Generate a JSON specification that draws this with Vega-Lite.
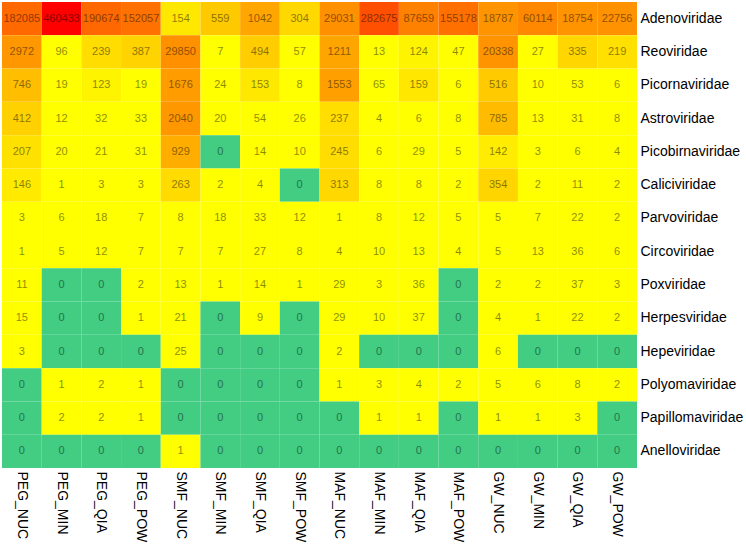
{
  "$schema": "https://vega.github.io/schema/vega-lite/v6.json",
  "width": 635,
  "height": 466,
  "autosize": {"type": "none"},
  "padding": {"left": 2, "top": 2, "right": 109, "bottom": 77},
  "background": "white",
  "config": {"view": {"stroke": null}, "font": "Liberation Sans"},
  "data": {
    "values": [
      {"family":"Adenoviridae","sample":"PEG_NUC","value":182085},{"family":"Adenoviridae","sample":"PEG_MIN","value":460433},{"family":"Adenoviridae","sample":"PEG_QIA","value":190674},{"family":"Adenoviridae","sample":"PEG_POW","value":152057},{"family":"Adenoviridae","sample":"SMF_NUC","value":154},{"family":"Adenoviridae","sample":"SMF_MIN","value":559},{"family":"Adenoviridae","sample":"SMF_QIA","value":1042},{"family":"Adenoviridae","sample":"SMF_POW","value":304},{"family":"Adenoviridae","sample":"MAF_NUC","value":29031},{"family":"Adenoviridae","sample":"MAF_MIN","value":282675},{"family":"Adenoviridae","sample":"MAF_QIA","value":87659},{"family":"Adenoviridae","sample":"MAF_POW","value":155178},{"family":"Adenoviridae","sample":"GW_NUC","value":18787},{"family":"Adenoviridae","sample":"GW_MIN","value":60114},{"family":"Adenoviridae","sample":"GW_QIA","value":18754},{"family":"Adenoviridae","sample":"GW_POW","value":22756},
      {"family":"Reoviridae","sample":"PEG_NUC","value":2972},{"family":"Reoviridae","sample":"PEG_MIN","value":96},{"family":"Reoviridae","sample":"PEG_QIA","value":239},{"family":"Reoviridae","sample":"PEG_POW","value":387},{"family":"Reoviridae","sample":"SMF_NUC","value":29850},{"family":"Reoviridae","sample":"SMF_MIN","value":7},{"family":"Reoviridae","sample":"SMF_QIA","value":494},{"family":"Reoviridae","sample":"SMF_POW","value":57},{"family":"Reoviridae","sample":"MAF_NUC","value":1211},{"family":"Reoviridae","sample":"MAF_MIN","value":13},{"family":"Reoviridae","sample":"MAF_QIA","value":124},{"family":"Reoviridae","sample":"MAF_POW","value":47},{"family":"Reoviridae","sample":"GW_NUC","value":20338},{"family":"Reoviridae","sample":"GW_MIN","value":27},{"family":"Reoviridae","sample":"GW_QIA","value":335},{"family":"Reoviridae","sample":"GW_POW","value":219},
      {"family":"Picornaviridae","sample":"PEG_NUC","value":746},{"family":"Picornaviridae","sample":"PEG_MIN","value":19},{"family":"Picornaviridae","sample":"PEG_QIA","value":123},{"family":"Picornaviridae","sample":"PEG_POW","value":19},{"family":"Picornaviridae","sample":"SMF_NUC","value":1676},{"family":"Picornaviridae","sample":"SMF_MIN","value":24},{"family":"Picornaviridae","sample":"SMF_QIA","value":153},{"family":"Picornaviridae","sample":"SMF_POW","value":8},{"family":"Picornaviridae","sample":"MAF_NUC","value":1553},{"family":"Picornaviridae","sample":"MAF_MIN","value":65},{"family":"Picornaviridae","sample":"MAF_QIA","value":159},{"family":"Picornaviridae","sample":"MAF_POW","value":6},{"family":"Picornaviridae","sample":"GW_NUC","value":516},{"family":"Picornaviridae","sample":"GW_MIN","value":10},{"family":"Picornaviridae","sample":"GW_QIA","value":53},{"family":"Picornaviridae","sample":"GW_POW","value":6},
      {"family":"Astroviridae","sample":"PEG_NUC","value":412},{"family":"Astroviridae","sample":"PEG_MIN","value":12},{"family":"Astroviridae","sample":"PEG_QIA","value":32},{"family":"Astroviridae","sample":"PEG_POW","value":33},{"family":"Astroviridae","sample":"SMF_NUC","value":2040},{"family":"Astroviridae","sample":"SMF_MIN","value":20},{"family":"Astroviridae","sample":"SMF_QIA","value":54},{"family":"Astroviridae","sample":"SMF_POW","value":26},{"family":"Astroviridae","sample":"MAF_NUC","value":237},{"family":"Astroviridae","sample":"MAF_MIN","value":4},{"family":"Astroviridae","sample":"MAF_QIA","value":6},{"family":"Astroviridae","sample":"MAF_POW","value":8},{"family":"Astroviridae","sample":"GW_NUC","value":785},{"family":"Astroviridae","sample":"GW_MIN","value":13},{"family":"Astroviridae","sample":"GW_QIA","value":31},{"family":"Astroviridae","sample":"GW_POW","value":8},
      {"family":"Picobirnaviridae","sample":"PEG_NUC","value":207},{"family":"Picobirnaviridae","sample":"PEG_MIN","value":20},{"family":"Picobirnaviridae","sample":"PEG_QIA","value":21},{"family":"Picobirnaviridae","sample":"PEG_POW","value":31},{"family":"Picobirnaviridae","sample":"SMF_NUC","value":929},{"family":"Picobirnaviridae","sample":"SMF_MIN","value":0},{"family":"Picobirnaviridae","sample":"SMF_QIA","value":14},{"family":"Picobirnaviridae","sample":"SMF_POW","value":10},{"family":"Picobirnaviridae","sample":"MAF_NUC","value":245},{"family":"Picobirnaviridae","sample":"MAF_MIN","value":6},{"family":"Picobirnaviridae","sample":"MAF_QIA","value":29},{"family":"Picobirnaviridae","sample":"MAF_POW","value":5},{"family":"Picobirnaviridae","sample":"GW_NUC","value":142},{"family":"Picobirnaviridae","sample":"GW_MIN","value":3},{"family":"Picobirnaviridae","sample":"GW_QIA","value":6},{"family":"Picobirnaviridae","sample":"GW_POW","value":4},
      {"family":"Caliciviridae","sample":"PEG_NUC","value":146},{"family":"Caliciviridae","sample":"PEG_MIN","value":1},{"family":"Caliciviridae","sample":"PEG_QIA","value":3},{"family":"Caliciviridae","sample":"PEG_POW","value":3},{"family":"Caliciviridae","sample":"SMF_NUC","value":263},{"family":"Caliciviridae","sample":"SMF_MIN","value":2},{"family":"Caliciviridae","sample":"SMF_QIA","value":4},{"family":"Caliciviridae","sample":"SMF_POW","value":0},{"family":"Caliciviridae","sample":"MAF_NUC","value":313},{"family":"Caliciviridae","sample":"MAF_MIN","value":8},{"family":"Caliciviridae","sample":"MAF_QIA","value":8},{"family":"Caliciviridae","sample":"MAF_POW","value":2},{"family":"Caliciviridae","sample":"GW_NUC","value":354},{"family":"Caliciviridae","sample":"GW_MIN","value":2},{"family":"Caliciviridae","sample":"GW_QIA","value":11},{"family":"Caliciviridae","sample":"GW_POW","value":2},
      {"family":"Parvoviridae","sample":"PEG_NUC","value":3},{"family":"Parvoviridae","sample":"PEG_MIN","value":6},{"family":"Parvoviridae","sample":"PEG_QIA","value":18},{"family":"Parvoviridae","sample":"PEG_POW","value":7},{"family":"Parvoviridae","sample":"SMF_NUC","value":8},{"family":"Parvoviridae","sample":"SMF_MIN","value":18},{"family":"Parvoviridae","sample":"SMF_QIA","value":33},{"family":"Parvoviridae","sample":"SMF_POW","value":12},{"family":"Parvoviridae","sample":"MAF_NUC","value":1},{"family":"Parvoviridae","sample":"MAF_MIN","value":8},{"family":"Parvoviridae","sample":"MAF_QIA","value":12},{"family":"Parvoviridae","sample":"MAF_POW","value":5},{"family":"Parvoviridae","sample":"GW_NUC","value":5},{"family":"Parvoviridae","sample":"GW_MIN","value":7},{"family":"Parvoviridae","sample":"GW_QIA","value":22},{"family":"Parvoviridae","sample":"GW_POW","value":2},
      {"family":"Circoviridae","sample":"PEG_NUC","value":1},{"family":"Circoviridae","sample":"PEG_MIN","value":5},{"family":"Circoviridae","sample":"PEG_QIA","value":12},{"family":"Circoviridae","sample":"PEG_POW","value":7},{"family":"Circoviridae","sample":"SMF_NUC","value":7},{"family":"Circoviridae","sample":"SMF_MIN","value":7},{"family":"Circoviridae","sample":"SMF_QIA","value":27},{"family":"Circoviridae","sample":"SMF_POW","value":8},{"family":"Circoviridae","sample":"MAF_NUC","value":4},{"family":"Circoviridae","sample":"MAF_MIN","value":10},{"family":"Circoviridae","sample":"MAF_QIA","value":13},{"family":"Circoviridae","sample":"MAF_POW","value":4},{"family":"Circoviridae","sample":"GW_NUC","value":5},{"family":"Circoviridae","sample":"GW_MIN","value":13},{"family":"Circoviridae","sample":"GW_QIA","value":36},{"family":"Circoviridae","sample":"GW_POW","value":6},
      {"family":"Poxviridae","sample":"PEG_NUC","value":11},{"family":"Poxviridae","sample":"PEG_MIN","value":0},{"family":"Poxviridae","sample":"PEG_QIA","value":0},{"family":"Poxviridae","sample":"PEG_POW","value":2},{"family":"Poxviridae","sample":"SMF_NUC","value":13},{"family":"Poxviridae","sample":"SMF_MIN","value":1},{"family":"Poxviridae","sample":"SMF_QIA","value":14},{"family":"Poxviridae","sample":"SMF_POW","value":1},{"family":"Poxviridae","sample":"MAF_NUC","value":29},{"family":"Poxviridae","sample":"MAF_MIN","value":3},{"family":"Poxviridae","sample":"MAF_QIA","value":36},{"family":"Poxviridae","sample":"MAF_POW","value":0},{"family":"Poxviridae","sample":"GW_NUC","value":2},{"family":"Poxviridae","sample":"GW_MIN","value":2},{"family":"Poxviridae","sample":"GW_QIA","value":37},{"family":"Poxviridae","sample":"GW_POW","value":3},
      {"family":"Herpesviridae","sample":"PEG_NUC","value":15},{"family":"Herpesviridae","sample":"PEG_MIN","value":0},{"family":"Herpesviridae","sample":"PEG_QIA","value":0},{"family":"Herpesviridae","sample":"PEG_POW","value":1},{"family":"Herpesviridae","sample":"SMF_NUC","value":21},{"family":"Herpesviridae","sample":"SMF_MIN","value":0},{"family":"Herpesviridae","sample":"SMF_QIA","value":9},{"family":"Herpesviridae","sample":"SMF_POW","value":0},{"family":"Herpesviridae","sample":"MAF_NUC","value":29},{"family":"Herpesviridae","sample":"MAF_MIN","value":10},{"family":"Herpesviridae","sample":"MAF_QIA","value":37},{"family":"Herpesviridae","sample":"MAF_POW","value":0},{"family":"Herpesviridae","sample":"GW_NUC","value":4},{"family":"Herpesviridae","sample":"GW_MIN","value":1},{"family":"Herpesviridae","sample":"GW_QIA","value":22},{"family":"Herpesviridae","sample":"GW_POW","value":2},
      {"family":"Hepeviridae","sample":"PEG_NUC","value":3},{"family":"Hepeviridae","sample":"PEG_MIN","value":0},{"family":"Hepeviridae","sample":"PEG_QIA","value":0},{"family":"Hepeviridae","sample":"PEG_POW","value":0},{"family":"Hepeviridae","sample":"SMF_NUC","value":25},{"family":"Hepeviridae","sample":"SMF_MIN","value":0},{"family":"Hepeviridae","sample":"SMF_QIA","value":0},{"family":"Hepeviridae","sample":"SMF_POW","value":0},{"family":"Hepeviridae","sample":"MAF_NUC","value":2},{"family":"Hepeviridae","sample":"MAF_MIN","value":0},{"family":"Hepeviridae","sample":"MAF_QIA","value":0},{"family":"Hepeviridae","sample":"MAF_POW","value":0},{"family":"Hepeviridae","sample":"GW_NUC","value":6},{"family":"Hepeviridae","sample":"GW_MIN","value":0},{"family":"Hepeviridae","sample":"GW_QIA","value":0},{"family":"Hepeviridae","sample":"GW_POW","value":0},
      {"family":"Polyomaviridae","sample":"PEG_NUC","value":0},{"family":"Polyomaviridae","sample":"PEG_MIN","value":1},{"family":"Polyomaviridae","sample":"PEG_QIA","value":2},{"family":"Polyomaviridae","sample":"PEG_POW","value":1},{"family":"Polyomaviridae","sample":"SMF_NUC","value":0},{"family":"Polyomaviridae","sample":"SMF_MIN","value":0},{"family":"Polyomaviridae","sample":"SMF_QIA","value":0},{"family":"Polyomaviridae","sample":"SMF_POW","value":0},{"family":"Polyomaviridae","sample":"MAF_NUC","value":1},{"family":"Polyomaviridae","sample":"MAF_MIN","value":3},{"family":"Polyomaviridae","sample":"MAF_QIA","value":4},{"family":"Polyomaviridae","sample":"MAF_POW","value":2},{"family":"Polyomaviridae","sample":"GW_NUC","value":5},{"family":"Polyomaviridae","sample":"GW_MIN","value":6},{"family":"Polyomaviridae","sample":"GW_QIA","value":8},{"family":"Polyomaviridae","sample":"GW_POW","value":2},
      {"family":"Papillomaviridae","sample":"PEG_NUC","value":0},{"family":"Papillomaviridae","sample":"PEG_MIN","value":2},{"family":"Papillomaviridae","sample":"PEG_QIA","value":2},{"family":"Papillomaviridae","sample":"PEG_POW","value":1},{"family":"Papillomaviridae","sample":"SMF_NUC","value":0},{"family":"Papillomaviridae","sample":"SMF_MIN","value":0},{"family":"Papillomaviridae","sample":"SMF_QIA","value":0},{"family":"Papillomaviridae","sample":"SMF_POW","value":0},{"family":"Papillomaviridae","sample":"MAF_NUC","value":0},{"family":"Papillomaviridae","sample":"MAF_MIN","value":1},{"family":"Papillomaviridae","sample":"MAF_QIA","value":1},{"family":"Papillomaviridae","sample":"MAF_POW","value":0},{"family":"Papillomaviridae","sample":"GW_NUC","value":1},{"family":"Papillomaviridae","sample":"GW_MIN","value":1},{"family":"Papillomaviridae","sample":"GW_QIA","value":3},{"family":"Papillomaviridae","sample":"GW_POW","value":0},
      {"family":"Anelloviridae","sample":"PEG_NUC","value":0},{"family":"Anelloviridae","sample":"PEG_MIN","value":0},{"family":"Anelloviridae","sample":"PEG_QIA","value":0},{"family":"Anelloviridae","sample":"PEG_POW","value":0},{"family":"Anelloviridae","sample":"SMF_NUC","value":1},{"family":"Anelloviridae","sample":"SMF_MIN","value":0},{"family":"Anelloviridae","sample":"SMF_QIA","value":0},{"family":"Anelloviridae","sample":"SMF_POW","value":0},{"family":"Anelloviridae","sample":"MAF_NUC","value":0},{"family":"Anelloviridae","sample":"MAF_MIN","value":0},{"family":"Anelloviridae","sample":"MAF_QIA","value":0},{"family":"Anelloviridae","sample":"MAF_POW","value":0},{"family":"Anelloviridae","sample":"GW_NUC","value":0},{"family":"Anelloviridae","sample":"GW_MIN","value":0},{"family":"Anelloviridae","sample":"GW_QIA","value":0},{"family":"Anelloviridae","sample":"GW_POW","value":0}
    ]
  },
  "encoding": {
    "x": {
      "field": "sample", "type": "nominal",
      "sort": ["PEG_NUC","PEG_MIN","PEG_QIA","PEG_POW","SMF_NUC","SMF_MIN","SMF_QIA","SMF_POW","MAF_NUC","MAF_MIN","MAF_QIA","MAF_POW","GW_NUC","GW_MIN","GW_QIA","GW_POW"],
      "scale": {"paddingInner": 0, "paddingOuter": 0},
      "axis": {"title": null, "orient": "bottom", "labelAngle": 90, "labelFontSize": 14, "labelColor": "#000000", "labelFont": "Liberation Sans", "ticks": false, "domain": false, "labelPadding": 3}
    },
    "y": {
      "field": "family", "type": "nominal",
      "sort": ["Adenoviridae","Reoviridae","Picornaviridae","Astroviridae","Picobirnaviridae","Caliciviridae","Parvoviridae","Circoviridae","Poxviridae","Herpesviridae","Hepeviridae","Polyomaviridae","Papillomaviridae","Anelloviridae"],
      "scale": {"paddingInner": 0, "paddingOuter": 0},
      "axis": {"title": null, "orient": "right", "labelFontSize": 14, "labelColor": "#000000", "labelFont": "Liberation Sans", "ticks": false, "domain": false, "labelPadding": 3}
    }
  },
  "layer": [
    {
      "mark": {"type": "rect", "strokeWidth": 0},
      "encoding": {
        "color": {
          "field": "value", "type": "quantitative", "legend": null,
          "scale": {
            "type": "linear",
            "interpolate": "rgb",
            "domain": [0, 0.5, 1, 100, 150, 250, 400, 750, 1000, 2000, 30000, 90000, 180000, 300000, 460433],
            "range": ["#42CD83", "#42CD83", "#FFFF00", "#FFFF00", "#FFE800", "#FFDC00", "#FFD200", "#FFBE00", "#FFA800", "#FF9800", "#FF9000", "#FF8000", "#FF6A00", "#FF4A00", "#FF0000"]
          }
        }
      }
    },
    {
      "mark": {"type": "text", "fontSize": 11, "font": "Liberation Sans", "fill": "#000000", "opacity": 0.45},
      "encoding": {"text": {"field": "value", "type": "quantitative", "format": "d"}}
    }
  ]
}
